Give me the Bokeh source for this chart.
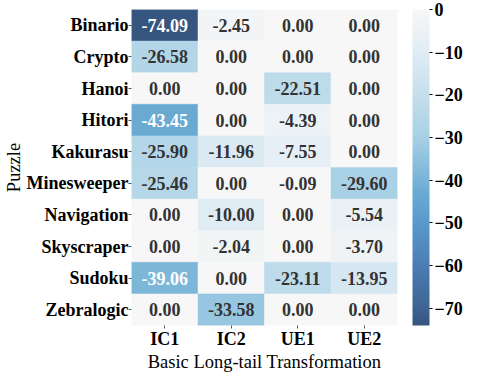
import numpy as np
from bokeh.plotting import figure
from bokeh.models import ColumnDataSource, LinearColorMapper, ColorBar, FixedTicker, AllLabels
from bokeh.transform import transform
from bokeh.core.properties import value
from bokeh.embed import file_html
from bokeh.resources import INLINE

puzzles = ["Binario", "Crypto", "Hanoi", "Hitori", "Kakurasu", "Minesweeper",
           "Navigation", "Skyscraper", "Sudoku", "Zebralogic"]
transforms = ["IC1", "IC2", "UE1", "UE2"]
ic1 = [-74.09, -26.58, 0.00, -43.45, -25.90, -25.46, 0.00, 0.00, -39.06, 0.00]
ic2 = [-2.45, 0.00, 0.00, 0.00, -11.96, 0.00, -10.00, -2.04, 0.00, -33.58]
ue1 = [0.00, 0.00, -22.51, -4.39, -7.55, -0.09, 0.00, 0.00, -23.11, 0.00]
ue2 = [0.00, 0.00, 0.00, 0.00, 0.00, -29.60, -5.54, -3.70, -13.95, 0.00]
cbar_ticks = [0, -10, -20, -30, -40, -50, -60, -70]

cols = {"IC1": ic1, "IC2": ic2, "UE1": ue1, "UE2": ue2}
xs, ys, vals, labels, tcol = [], [], [], [], []
for t in transforms:
    for pz, v in zip(puzzles, cols[t]):
        xs.append(t); ys.append(pz); vals.append(v)
        labels.append(f"{v:.2f}")
        tcol.append("white" if v < -37 else "#333333")
src = ColumnDataSource(dict(x=xs, y=ys, v=vals, label=labels, tc=tcol))

vmin = min(min(ic1), min(ic2), min(ue1), min(ue2))

# palette: dark (low) -> light (high)
stops = [(0.0, (0x36, 0x55, 0x7f)), (0.06, (0x3f, 0x65, 0x94)), (0.19, (0x4c, 0x7d, 0xb5)),
         (0.33, (0x5a, 0x9b, 0xcd)), (0.42, (0x6a, 0xaa, 0xd3)), (0.46, (0x78, 0xb4, 0xd7)),
         (0.60, (0xa9, 0xd1, 0xe5)), (0.65, (0xb3, 0xd6, 0xe8)), (0.73, (0xc6, 0xdf, 0xec)),
         (0.865, (0xe0, 0xec, 0xf4)), (1.0, (0xf7, 0xf7, 0xf7))]
pal = []
for i in range(256):
    f = i / 255
    for (a, ca), (b, cb) in zip(stops[:-1], stops[1:]):
        if a <= f <= b:
            w = (f - a) / (b - a)
            c = tuple(int(round(ca[k] + (cb[k] - ca[k]) * w)) for k in range(3))
            break
    pal.append("#%02x%02x%02x" % c)

mapper = LinearColorMapper(palette=pal, low=vmin, high=0)

FW, FH = 266, 316
FONT = value("Liberation Serif")
p = figure(x_range=transforms, y_range=list(reversed(puzzles)),
           frame_width=FW, frame_height=FH,
           output_backend="svg", toolbar_location=None, min_border_left=0,
           min_border_top=9, min_border_right=70, min_border_bottom=0)
p.outline_line_color = None
p.grid.grid_line_color = None
p.rect(x="x", y="y", width=1, height=1, source=src,
       fill_color=transform("v", mapper), line_color=transform("v", mapper), line_width=0.5)
p.text(x="x", y="y", text="label", source=src, text_color="tc",
       text_align="center", text_baseline="middle", text_font=FONT,
       text_font_style="bold", text_font_size="18px")

for ax in (p.xaxis[0], p.yaxis[0]):
    ax.axis_line_color = None
    ax.major_tick_out = 3
    ax.major_tick_in = 0
    ax.major_tick_line_color = "#555555"
    ax.major_label_text_font = "Liberation Serif"
    ax.major_label_text_font_style = "bold"
    ax.major_label_text_font_size = "18px"
    ax.major_label_text_color = "black"
    ax.major_label_standoff = 0
    ax.axis_label_text_font = "Liberation Serif"
    ax.axis_label_text_font_style = "normal"
    ax.axis_label_text_font_size = "18.5px"
    ax.axis_label_text_color = "black"
    ax.axis_label_standoff = 0
p.xaxis.axis_label = "Basic Long-tail Transformation"
p.yaxis.axis_label = "Puzzle"

cb = ColorBar(color_mapper=mapper, width=17, height=FH, padding=0, margin=0,
              location=(FW + 15, 0),
              ticker=FixedTicker(ticks=cbar_ticks), bar_line_color=None,
              major_tick_out=3, major_tick_in=0, major_tick_line_color="black",
              minor_tick_line_color=None, label_standoff=2,
              major_label_policy=AllLabels(),
              background_fill_color=None, border_line_color=None,
              major_label_text_font="Liberation Serif",
              major_label_text_font_style="bold", major_label_text_font_size="18px",
              major_label_text_color="black")
p.add_layout(cb)

open("out.html", "w").write(file_html(p, INLINE))
